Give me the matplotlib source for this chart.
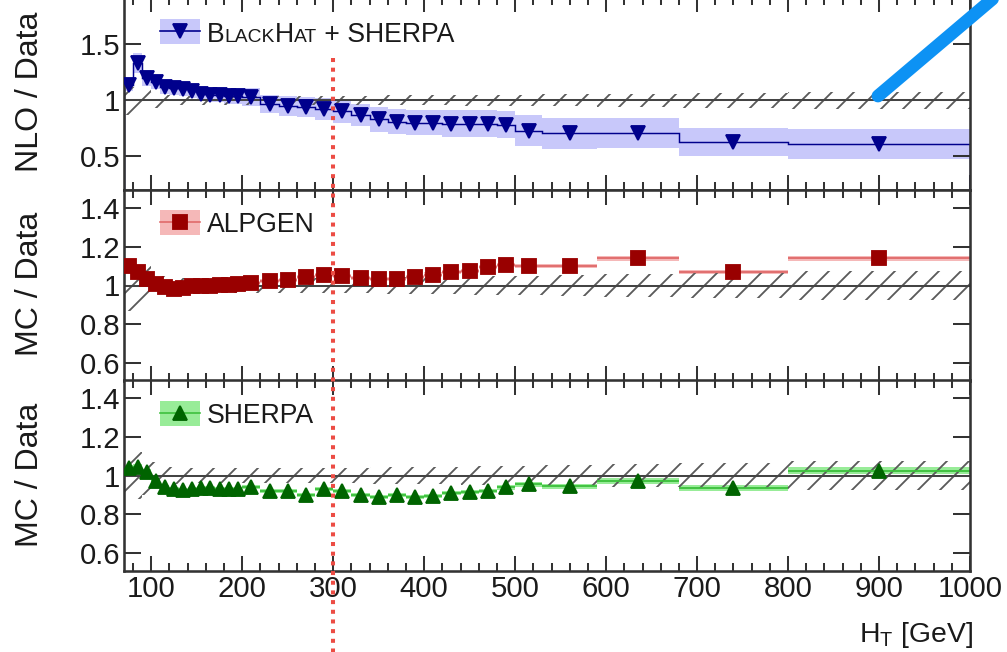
import numpy as np
import matplotlib
matplotlib.use("Agg")
import matplotlib.pyplot as plt
from matplotlib.lines import Line2D
from matplotlib.patches import Rectangle
from matplotlib.ticker import MultipleLocator, FixedLocator, FuncFormatter
from matplotlib.transforms import blended_transform_factory

plt.rcParams['font.family'] = ['Liberation Sans', 'DejaVu Sans']
plt.rcParams['mathtext.fontset'] = 'custom'
plt.rcParams['mathtext.rm'] = 'Liberation Sans'
plt.rcParams['hatch.linewidth'] = 1.0

# H_T binning [GeV]
ht_edges = [70, 80, 90, 100, 110, 120, 130, 140, 150, 160, 170, 180, 190, 200,
            220, 240, 260, 280, 300, 320, 340, 360, 380, 400, 420, 440, 460, 480, 500,
            530, 590, 680, 800, 1000]

# relative data uncertainty (hatched band around 1)
data_err = [0.13, 0.12, 0.10, 0.07, 0.05, 0.045, 0.04, 0.04, 0.04, 0.04, 0.04, 0.04, 0.04,
            0.04, 0.04, 0.04, 0.04, 0.04, 0.04, 0.04, 0.045, 0.045, 0.045, 0.045, 0.045, 0.05, 0.05, 0.05,
            0.05, 0.055, 0.06, 0.065, 0.075]

# BlackHat + Sherpa NLO / data
nlo_ratio = [1.14, 1.33, 1.20, 1.16, 1.12, 1.11, 1.10, 1.08, 1.06, 1.05, 1.05, 1.04, 1.04,
             1.03, 0.97, 0.95, 0.94, 0.92, 0.90, 0.87, 0.83, 0.81, 0.80, 0.80, 0.79, 0.79, 0.79, 0.78,
             0.73, 0.705, 0.705, 0.63, 0.61]
nlo_err = [0.06, 0.09, 0.07, 0.06, 0.06, 0.06, 0.06, 0.06, 0.07, 0.07, 0.07, 0.07, 0.07,
           0.08, 0.08, 0.09, 0.09, 0.10, 0.10, 0.10, 0.11, 0.11, 0.11, 0.11, 0.12, 0.12, 0.12, 0.12,
           0.135, 0.14, 0.135, 0.125, 0.13]

# ALPGEN / data
alpgen_ratio = [1.10, 1.07, 1.035, 1.01, 0.99, 0.98, 0.985, 0.995, 1.0, 1.0, 1.005, 1.005, 1.01,
                1.015, 1.025, 1.03, 1.045, 1.055, 1.05, 1.04, 1.035, 1.035, 1.045, 1.055, 1.07, 1.075, 1.095, 1.105,
                1.10, 1.10, 1.14, 1.07, 1.14]
alpgen_err = [0.015, 0.012, 0.01, 0.01, 0.01, 0.01, 0.01, 0.01, 0.01, 0.01, 0.01, 0.01, 0.01,
              0.01, 0.01, 0.01, 0.01, 0.01, 0.01, 0.01, 0.01, 0.01, 0.01, 0.012, 0.012, 0.012, 0.012, 0.012,
              0.012, 0.012, 0.012, 0.012, 0.012]

# SHERPA / data
sherpa_ratio = [1.04, 1.045, 1.02, 0.97, 0.94, 0.93, 0.925, 0.93, 0.935, 0.935, 0.93, 0.93, 0.93,
                0.94, 0.92, 0.92, 0.90, 0.93, 0.92, 0.90, 0.89, 0.90, 0.89, 0.895, 0.91, 0.915, 0.92, 0.94,
                0.955, 0.945, 0.97, 0.935, 1.025]
sherpa_err = [0.015, 0.012, 0.012, 0.01, 0.01, 0.01, 0.01, 0.01, 0.01, 0.01, 0.01, 0.01, 0.01,
              0.01, 0.01, 0.01, 0.01, 0.01, 0.01, 0.01, 0.01, 0.01, 0.01, 0.012, 0.012, 0.012, 0.012, 0.012,
              0.012, 0.012, 0.015, 0.015, 0.018]

ht_cut = 300

W, H, DPI = 1007, 652, 132
fig = plt.figure(figsize=(W / DPI, H / DPI), dpi=DPI)

edges = np.array(ht_edges, dtype=float)
centers = 0.5 * (edges[:-1] + edges[1:])
derr = np.array(data_err)

FRAME = '#333333'
TXT = '#1a1a1a'
MS = 8


def panel(top, bottom, ylo, yhi, yticks):
    ax = fig.add_axes([124 / W, 1 - bottom / H, 846 / W, (bottom - top) / H])
    ax.set_xlim(70, 1000)
    ax.set_ylim(ylo, yhi)
    ax.xaxis.set_major_locator(MultipleLocator(100))
    ax.xaxis.set_minor_locator(MultipleLocator(20))
    ax.yaxis.set_major_locator(FixedLocator(yticks))
    ax.yaxis.set_major_formatter(FuncFormatter(lambda v, p: '%g' % v))
    ax.tick_params(which='both', direction='in', top=True, right=True,
                   color=FRAME, width=1.1, labelcolor=TXT, labelsize=16, pad=2)
    ax.tick_params(axis='x', which='major', length=8.2)
    ax.tick_params(axis='x', which='minor', length=4.4)
    ax.tick_params(axis='y', which='major', length=9.3)
    for sp in ax.spines.values():
        sp.set_color(FRAME)
        sp.set_linewidth(1.4)
    # data uncertainty, hatched
    ax.stairs(1 + derr, edges, baseline=1 - derr, fill=True, facecolor='none',
              edgecolor='#5a5a5a', hatch='//', linewidth=0, zorder=1.6)
    ax.axhline(1, color='#444444', lw=1.1, zorder=1.8)
    return ax


ax1 = panel(-3, 190, 0.2, 1.92, [0.5, 1.0, 1.5])
ax2 = panel(190, 381, 0.51, 1.49, [0.6, 0.8, 1.0, 1.2, 1.4])
ax3 = panel(380, 571, 0.51, 1.49, [0.6, 0.8, 1.0, 1.2, 1.4])
ax1.tick_params(labelbottom=False)
ax2.tick_params(labelbottom=False)

# NLO prediction
nlo = np.array(nlo_ratio)
ne = np.array(nlo_err)
ax1.stairs(nlo + ne, edges, baseline=nlo - ne, fill=True, color='#c8c8fa', zorder=1)
ax1.stairs(nlo, edges, color='#00008c', lw=0.8, zorder=2)
ax1.plot(centers, nlo, 'v', color='#00008c', ms=MS, ls='none', zorder=3)

# ALPGEN
alp = np.array(alpgen_ratio)
ae = np.array(alpgen_err)
ax2.stairs(alp + ae, edges, baseline=alp - ae, fill=True, color='#f5b8b8', zorder=1)
ax2.hlines(alp, edges[:-1], edges[1:], color='#e06a6a', lw=1.0, zorder=2)
ax2.plot(centers, alp, 's', color='#990000', ms=MS - 0.5, ls='none', zorder=3)

# SHERPA
she = np.array(sherpa_ratio)
se = np.array(sherpa_err)
ax3.stairs(she + se, edges, baseline=she - se, fill=True, color='#98ec98', zorder=1)
ax3.hlines(she, edges[:-1], edges[1:], color='#3cc03c', lw=1.0, zorder=2)
ax3.plot(centers, she, '^', color='#006400', ms=MS, ls='none', zorder=3)


def fx(x):
    return x / W


def fy(y):
    return 1 - y / H


def legend_key(yc, band, line, marker, mcolor, ms):
    fig.add_artist(Rectangle((fx(160), fy(yc + 12.5)), 40 / W, 25 / H,
                             transform=fig.transFigure, facecolor=band, edgecolor='none'))
    fig.add_artist(Line2D([fx(160), fx(200)], [fy(yc), fy(yc)], transform=fig.transFigure,
                          color=line, lw=0.9))
    fig.add_artist(Line2D([fx(180)], [fy(yc)], transform=fig.transFigure, marker=marker,
                          color=mcolor, ms=ms, ls='none'))


legend_key(31, '#c8c8fa', '#00008c', 'v', '#00008c', MS)
legend_key(222, '#f5b8b8', '#e06a6a', 's', '#990000', MS - 0.5)
legend_key(413, '#98ec98', '#3cc03c', '^', '#006400', MS)

# "BlackHat + SHERPA" with small capitals
renderer = fig.canvas.get_renderer()
xpos = 207
for piece, size in [('B', 14.5), ('LACK', 10.5), ('H', 14.5), ('AT', 10.5), (' + SHERPA', 14.5)]:
    t = fig.text(fx(xpos), fy(42), piece, fontsize=size, va='baseline', color=TXT)
    xpos = t.get_window_extent(renderer).x1

fig.text(fx(207), fy(232), 'ALPGEN', fontsize=14.5, va='baseline', color=TXT)
fig.text(fx(207), fy(423), 'SHERPA', fontsize=14.5, va='baseline', color=TXT)

# axis titles
fig.text(fx(30), fy(92), 'NLO / Data', rotation=90, ha='center', va='center', fontsize=17.5, color=TXT)
fig.text(fx(30), fy(284), 'MC / Data', rotation=90, ha='center', va='center', fontsize=17.5, color=TXT)
fig.text(fx(30), fy(475), 'MC / Data', rotation=90, ha='center', va='center', fontsize=17.5, color=TXT)
fig.text(fx(973), fy(642), r'H$_{\mathrm{T}}$ [GeV]', ha='right', va='baseline', fontsize=15.5, color=TXT)

# H_T = 300 GeV marker line
trans = blended_transform_factory(ax3.transData, fig.transFigure)
fig.add_artist(Line2D([ht_cut, ht_cut], [fy(58), 0], transform=trans, color='#ec4c44',
                      lw=2.2, linestyle=(0, (1, 1.4)), zorder=5))

# freehand stroke in the upper right corner
fig.add_artist(Line2D([fx(878), fx(996)], [fy(96), fy(-4)], transform=fig.transFigure,
                      color='#0d92f4', lw=7, solid_capstyle='round', zorder=6))

fig.savefig('out.png', dpi=DPI, facecolor='white')
